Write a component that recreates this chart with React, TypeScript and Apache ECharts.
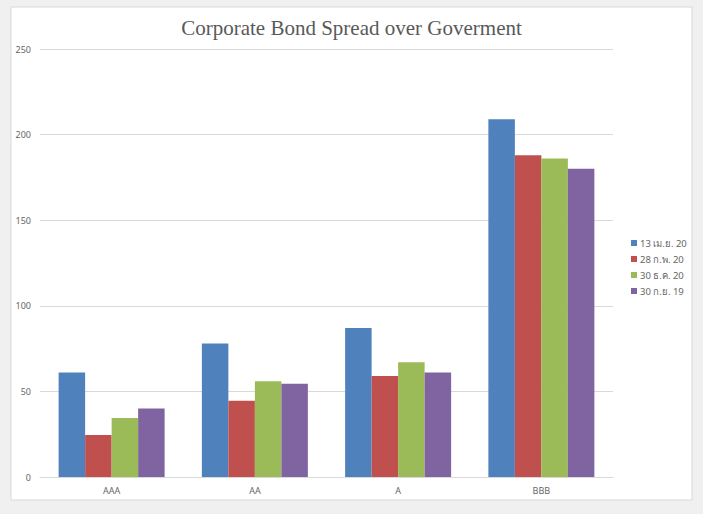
import React, { useEffect, useRef } from "react";
import * as echarts from "echarts";

const categories = ["AAA", "AA", "A", "BBB"];
const seriesNames = ["13 เม.ย. 20", "28 ก.พ. 20", "30 ธ.ค. 20", "30 ก.ย. 19"];
const s1 = [61, 78, 87, 209];
const s2 = [24.5, 44.5, 59, 188];
const s3 = [34.5, 56, 67, 186];
const s4 = [40, 54.5, 61, 180];
const colors = ["#4f81bd", "#c0504d", "#9bbb59", "#8064a2"];

export default function App() {
  const ref = useRef<HTMLDivElement>(null);
  useEffect(() => {
    if (!ref.current) return;
    const chart = echarts.init(ref.current, null, { renderer: "svg" });
    const data = [s1, s2, s3, s4];
    chart.setOption({
      animation: false,
      backgroundColor: "#f0f0f0",
      graphic: [
        {
          type: "rect",
          shape: { x: 11, y: 7, width: 681, height: 493 },
          style: { fill: "#ffffff", stroke: "#d9d9d9", lineWidth: 1 },
          z: -10,
        },
      ],
      title: {
        text: "Corporate Bond Spread over Goverment",
        left: "center",
        top: 12,
        textStyle: {
          fontFamily: "Liberation Serif",
          fontSize: 21,
          fontWeight: "normal",
          color: "#595959",
        },
      },
      legend: {
        orient: "vertical",
        left: 626,
        top: 233,
        itemWidth: 6,
        itemHeight: 6,
        itemGap: 6,
        icon: "rect",
        textStyle: { fontSize: 9.5, color: "#666666", fontFamily: "Noto Sans", padding: [0, 0, 0, -2] },
        data: seriesNames,
      },
      grid: { left: 40, right: 90, top: 49, bottom: 37 },
      xAxis: {
        type: "category",
        data: categories,
        axisLine: { lineStyle: { color: "#d9d9d9" } },
        axisTick: { show: false },
        axisLabel: { fontSize: 9, color: "#666666", margin: 9, fontFamily: "Noto Sans" },
      },
      yAxis: {
        type: "value",
        min: 0,
        max: 250,
        interval: 50,
        axisLine: { show: false },
        axisTick: { show: false },
        splitLine: { lineStyle: { color: "#d9d9d9" } },
        axisLabel: { fontSize: 9, color: "#666666", margin: 9, fontFamily: "Noto Sans" },
      },
      series: seriesNames.map((name, i) => ({
        name,
        type: "bar",
        data: data[i],
        barGap: "0%",
        barCategoryGap: "26%",
        itemStyle: { color: colors[i] },
      })),
    });
    return () => chart.dispose();
  }, []);
  return (
    <div style={{ position: "fixed", left: 0, top: 0, width: 703, height: 514 }}>
      <div ref={ref} style={{ width: 703, height: 514 }} />
    </div>
  );
}
